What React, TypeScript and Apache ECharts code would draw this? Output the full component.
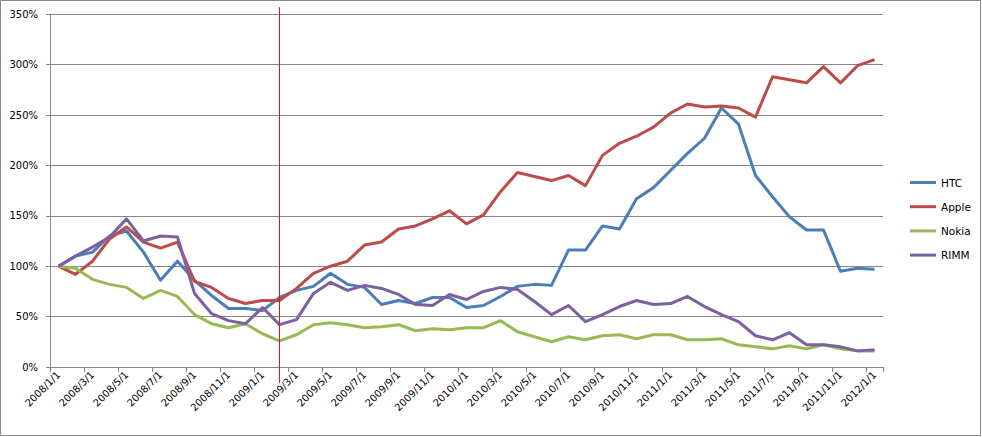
import React, { useEffect, useRef } from "react";
import * as echarts from "echarts";

const categories = [
  "2008/1/1", "2008/2/1", "2008/3/1", "2008/4/1", "2008/5/1", "2008/6/1", "2008/7/1", "2008/8/1",
  "2008/9/1", "2008/10/1", "2008/11/1", "2008/12/1", "2009/1/1", "2009/2/1", "2009/3/1", "2009/4/1",
  "2009/5/1", "2009/6/1", "2009/7/1", "2009/8/1", "2009/9/1", "2009/10/1", "2009/11/1", "2009/12/1",
  "2010/1/1", "2010/2/1", "2010/3/1", "2010/4/1", "2010/5/1", "2010/6/1", "2010/7/1", "2010/8/1",
  "2010/9/1", "2010/10/1", "2010/11/1", "2010/12/1", "2011/1/1", "2011/2/1", "2011/3/1", "2011/4/1",
  "2011/5/1", "2011/6/1", "2011/7/1", "2011/8/1", "2011/9/1", "2011/10/1", "2011/11/1", "2011/12/1",
  "2012/1/1",
];

const htc = [100, 110, 114, 130, 135, 114, 86, 105, 86, 71, 58, 58, 56, 69, 76, 80, 93, 82, 79, 62, 66, 63, 69, 69, 59, 61, 70, 80, 82, 81, 116, 116, 140, 137, 167, 178, 195, 212, 227, 257, 241, 190, 169, 149, 136, 136, 95, 98, 97];
const apple = [100, 92, 105, 127, 139, 124, 118, 124, 85, 79, 68, 63, 66, 66, 78, 93, 100, 105, 121, 124, 137, 140, 147, 155, 142, 151, 174, 193, 189, 185, 190, 180, 210, 222, 229, 238, 252, 261, 258, 259, 257, 248, 288, 285, 282, 298, 282, 299, 305];
const nokia = [100, 98, 87, 82, 79, 68, 76, 70, 52, 43, 39, 43, 33, 26, 32, 42, 44, 42, 39, 40, 42, 36, 38, 37, 39, 39, 46, 35, 30, 25, 30, 27, 31, 32, 28, 32, 32, 27, 27, 28, 22, 20, 18, 21, 18, 22, 18, 16, 16];
const rimm = [100, 110, 119, 129, 147, 125, 130, 129, 73, 53, 46, 43, 59, 42, 47, 73, 84, 76, 81, 78, 72, 62, 61, 72, 67, 75, 79, 77, 65, 52, 61, 45, 52, 60, 66, 62, 63, 70, 60, 52, 45, 31, 27, 34, 22, 22, 20, 16, 17];

const seriesNames = ["HTC", "Apple", "Nokia", "RIMM"];
const seriesColors = ["#4a7ebb", "#be4b48", "#98b954", "#7d60a0"];
const markerCategory = "2009/2/1";

export default function App() {
  const ref = useRef<HTMLDivElement>(null);
  useEffect(() => {
    const chart = echarts.init(ref.current!, null, { renderer: "svg" });
    const font = "'DejaVu Sans', Verdana, sans-serif";
    const gray = "#868686";
    const data = [htc, apple, nokia, rimm];
    chart.setOption({
      animation: false,
      backgroundColor: "#fff",
      textStyle: { fontFamily: font },
      grid: { left: 50, right: 99, top: 14.3, bottom: 70, containLabel: false },
      legend: {
        orient: "vertical",
        left: 905,
        top: 171.5,
        icon: "rect",
        itemWidth: 26,
        itemHeight: 3,
        itemGap: 12.2,
        data: seriesNames,
        textStyle: { fontFamily: font, fontSize: 10.5, lineHeight: 12, color: "#000" },
      },
      xAxis: {
        type: "category",
        data: categories,
        boundaryGap: true,
        axisLine: { show: true, lineStyle: { color: gray, width: 1 } },
        axisTick: { show: true, interval: 1, length: 5, lineStyle: { color: gray } },
        axisLabel: { interval: 1, rotate: 45, margin: 6, fontSize: 10, color: "#000", fontFamily: font },
        splitLine: { show: false },
      },
      yAxis: {
        type: "value",
        min: 0,
        max: 350,
        interval: 50,
        axisLine: { show: true, lineStyle: { color: gray, width: 1 } },
        axisTick: { show: true, length: 4, lineStyle: { color: gray } },
        axisLabel: { formatter: "{value}%", margin: 12, fontSize: 10, color: "#000", fontFamily: font },
        splitLine: { show: true, lineStyle: { color: gray, width: 1 } },
      },
      series: seriesNames.map((name, i) => ({
        name,
        type: "line",
        data: data[i],
        symbol: "none",
        color: seriesColors[i],
        itemStyle: { color: seriesColors[i] },
        lineStyle: { width: 3, color: seriesColors[i], join: "round" },
      })),
    });
    const idx = categories.indexOf(markerCategory);
    const px = chart.convertToPixel({ gridIndex: 0 }, [idx, 0]) as number[];
    const x = Math.round(px[0]) - 0.5;
    chart.setOption({
      graphic: [
        {
          id: "border",
          type: "rect",
          shape: { x: 0.5, y: 0.5, width: 980, height: 435 },
          style: { fill: "none", stroke: gray, lineWidth: 1 },
          silent: true,
        },
        {
          id: "marker",
          type: "line",
          shape: { x1: x, y1: 7, x2: x, y2: 383 },
          style: { stroke: "#d8141e", lineWidth: 1 },
          silent: true,
          z: 100,
        },
      ],
    });
    return () => chart.dispose();
  }, []);
  return (
    <div
      ref={ref}
      style={{ position: "fixed", left: 0, top: 0, width: 982, height: 437, background: "#fff" }}
    />
  );
}
